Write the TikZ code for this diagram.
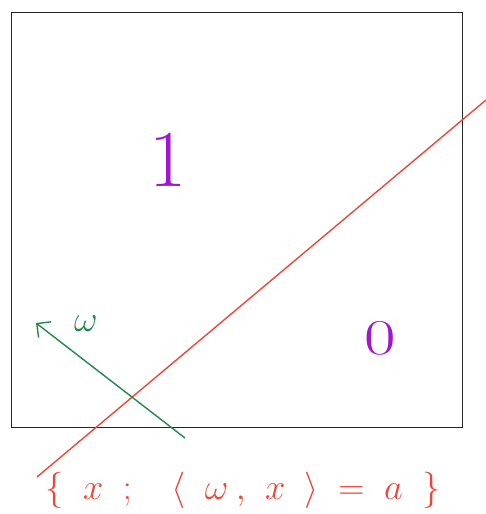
\documentclass[tikz,border=0pt]{standalone}
\usepackage{amsmath,amssymb}
\usepackage{xcolor}
\usepackage{tikz}
\usetikzlibrary{arrows.meta}
\definecolor{lineRed}{RGB}{236,72,58}
\definecolor{normGreen}{RGB}{34,136,78}
\definecolor{classPurple}{RGB}{160,20,210}
\tikzset{
  frame/.style={draw, line width=0.8pt, black!85},
  hyperplane/.style={draw=lineRed, line width=0.8pt},
  normal/.style={draw=normGreen, line width=0.8pt, -{Straight Barb[length=2mm]}},
  classlabel/.style={text=classPurple, font=\fontsize{46}{46}\selectfont},
}

\begin{document}
\begin{tikzpicture}[x=0.02cm, y=-0.02cm]
  \useasboundingbox (0,0) rectangle (486,514);
  % square and the separating line
  \node[frame, minimum width=9.02cm, minimum height=8.3cm, anchor=north west, inner sep=0pt] (box) at (11,12) {};
  \coordinate (h1) at (37,477);
  \coordinate (h2) at (486,100);
  \draw[hyperplane] (h1) -- (h2);

  % normal vector
  \coordinate (w0) at (185,438);
  \coordinate (w1) at (36,323);
  \draw[normal] (w0) -- (w1);
  \node[text=normGreen, font=\fontsize{22}{22}\selectfont] (wlab) at (86,324) {$\omega$};

  % the two classes
  \node[classlabel] (one) at (168,160) {1};
  \node[classlabel, font=\fontsize{30}{30}\selectfont] (zero) at (380,338) {\scalebox{1.3}[0.95]{0}};

  % set label
  \node[text=lineRed, font=\fontsize{22}{22}\selectfont, inner sep=0pt] (set) at (243,490)
    {\hbox to 7.9cm{$\{$\hfill$x$\hfill$;$\hfill\hspace{0.4cm}$\langle$\hfill$\omega$\hspace{0.15cm}$,$\hfill$x$\hfill$\rangle$\hfill$=$\hfill$a$\hfill$\}$}};
\end{tikzpicture}
\end{document}
